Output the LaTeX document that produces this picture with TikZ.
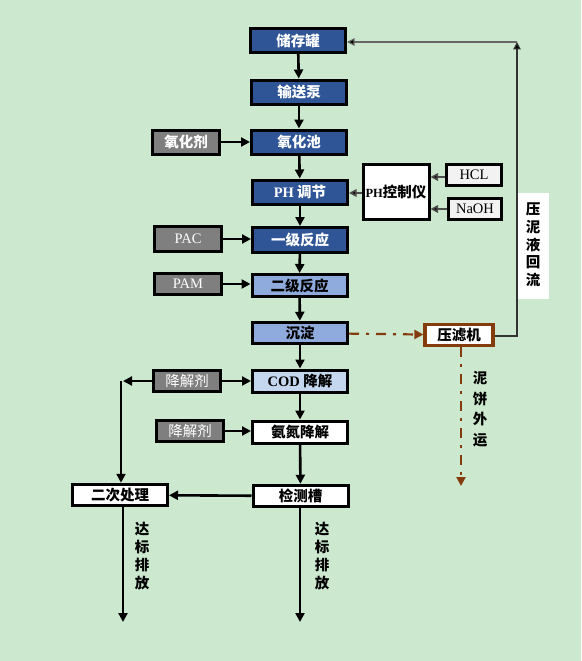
\documentclass[tikz,border=0pt]{standalone}
\usepackage{fontspec}
\setmainfont{Noto Sans CJK SC}
\newfontfamily\lat{Liberation Serif}
\usetikzlibrary{arrows.meta}
\definecolor{bg}{RGB}{204,232,207}
\definecolor{dblue}{RGB}{47,85,151}
\definecolor{mblue}{RGB}{143,170,220}
\definecolor{lblue}{RGB}{197,214,239}
\definecolor{gbox}{RGB}{127,127,127}
\definecolor{lgray}{RGB}{242,242,242}
\definecolor{brn}{RGB}{132,60,12}
\begin{document}
\begin{tikzpicture}[x=1pt,y=-1pt,
  boxbase/.style={rectangle,draw=black,line width=3pt,inner sep=0pt,
    font=\fontsize{14.5}{16}\selectfont\bfseries},
  mainbox/.style={boxbase,minimum width=95pt,minimum height=24pt},
  sidebox/.style={boxbase,fill=gbox,text=white,minimum width=67pt,minimum height=21.5pt},
  darkfill/.style={fill=dblue,text=white},
  midfill/.style={fill=mblue,text=black},
  whitefill/.style={fill=white,text=black},
  arr/.style={line width=2.6pt,draw=black,-{Triangle[length=9pt,width=9pt]}},
  tarr/.style={line width=1.6pt,draw=black!70,-{Triangle[length=7.5pt,width=7.5pt,fill=black]}},
  rarr/.style={line width=1.2pt,draw=black!80,-{Triangle[length=7.5pt,width=7.5pt,fill=black]}},
  vtext/.style={align=center,inner sep=0pt,font=\fontsize{14.5}{18}\selectfont\bfseries}
]
\fill[bg] (0,0) rectangle (581,661);
\useasboundingbox (0,0) rectangle (581,661);

% main column
\node[mainbox,darkfill] (store) at (298,40.5) {储存罐};
\node[mainbox,darkfill] (pump) at (299,92) {输送泵};
\node[mainbox,darkfill] (oxp) at (299,142) {氧化池};
\node[mainbox,darkfill] (ph) at (300,192) {{\lat PH} 调节};
\node[mainbox,darkfill,minimum height=25pt] (r1) at (300,240) {一级反应};
\node[mainbox,midfill,minimum height=22pt] (r2) at (299.5,285.5) {二级反应};
\node[mainbox,midfill,minimum height=21.5pt] (sed) at (300,333) {沉淀};
\node[mainbox,fill=lblue,minimum height=22pt] (cod) at (300,381) {{\lat COD} 降解};
\node[mainbox,whitefill,minimum height=22pt] (nh) at (300,432) {氨氮降解};
\node[mainbox,whitefill,minimum height=21.5pt] (det) at (300.5,496) {检测槽};
\node[mainbox,whitefill,minimum height=21.5pt] (sec) at (120,495) {二次处理};

% side boxes
\node[sidebox,minimum height=24pt] (oxa) at (186,142) {氧化剂};
\node[sidebox,minimum height=25pt,font=\fontsize{14.5}{16}\selectfont\lat] (pac) at (188,239) {PAC};
\node[sidebox,font=\fontsize{14.5}{16}\selectfont\lat] (pam) at (188,284) {PAM};
\node[sidebox,font=\fontsize{14.5}{16}\selectfont] (deg1) at (187,381) {降解剂};
\node[sidebox,font=\fontsize{14.5}{16}\selectfont] (deg2) at (190,431) {降解剂};

% pH control
\node[boxbase,whitefill,minimum width=66pt,minimum height=55pt] (phc) at (396,192) {{\lat\fontsize{12.5}{14}\selectfont PH}控制仪};
\node[boxbase,fill=lgray,minimum width=55pt,minimum height=21pt,font=\fontsize{14.5}{16}\selectfont\lat] (hcl) at (474,175) {HCL};
\node[boxbase,fill=lgray,minimum width=53pt,minimum height=21pt,font=\fontsize{14.5}{16}\selectfont\lat] (naoh) at (475,209) {NaOH};

% filter press
\node[boxbase,whitefill,draw=brn,line width=3.2pt,minimum width=68pt,minimum height=21pt] (press) at (459,335) {压滤机};
\node[fill=white,minimum width=32pt,minimum height=106pt,inner sep=0pt] (rbox) at (533,246) {};
\node[vtext,font=\fontsize{14.5}{17.75}\selectfont\bfseries] (rtxt) at (533,245) {压\\泥\\液\\回\\流};

% main flow
\draw[arr] (store) -- (pump);
\draw[arr] (pump) -- (oxp);
\draw[arr] (oxp) -- (ph);
\draw[arr] (ph) -- (r1);
\draw[arr] (r1) -- (r2);
\draw[arr] (r2) -- (sed);
\draw[arr] (sed) -- (cod);
\draw[arr] (cod) -- (nh);
\draw[arr] (nh) -- (det);
\draw[arr] (det) -- (sec);

% side feeds
\draw[arr] (oxa) -- (oxp);
\draw[arr] (pac) -- (r1.west |- pac);
\draw[arr] (pam) -- (r2.west |- pam);
\draw[arr] (deg1) -- (cod);
\draw[arr] (deg2) -- (nh.west |- deg2);
\coordinate (ltip) at (123,381);
\coordinate (ltop) at (121,381);
\draw[arr] (deg1) -- (ltip);
\draw[arr] (ltop) -- (ltop |- sec.north);

% pH control arrows
\draw[tarr] (phc.west |- 0,193) -- (ph.east |- 0,193);
\draw[tarr] (hcl.west |- 0,177) -- (phc.east |- 0,177);
\draw[tarr] (naoh) -- (phc.east |- naoh);

% sludge
\draw[brn,line width=2.2pt,dash pattern=on 10pt off 7pt on 3pt off 7pt,-{Triangle[length=9pt,width=9pt]}] (sed) -- (press);
\coordinate (cake) at (461,486);
\draw[brn,line width=2.2pt,dash pattern=on 10pt off 7pt on 3pt off 7pt,-{Triangle[length=9pt,width=9pt]}] (press.south -| cake) -- (cake);
\node[vtext,font=\fontsize{14.5}{20.5}\selectfont\bfseries] (caket) at (480,409) {泥\\饼\\外\\运};

% reflux
\coordinate (rtop) at (517,42);
\draw[rarr] (press.east |- 0,336) -| (rtop);
\draw[rarr,draw=black!60] (rtop) -- (store.east |- rtop);

% discharge
\coordinate (d1) at (123,622);
\coordinate (d2) at (300,622);
\draw[arr] (sec.south -| d1) -- (d1);
\draw[arr] (det.south -| d2) -- (d2);
\node[vtext] (dt1) at (142,556.5) {达\\标\\排\\放};
\node[vtext] (dt2) at (322,556.5) {达\\标\\排\\放};
\end{tikzpicture}
\end{document}
